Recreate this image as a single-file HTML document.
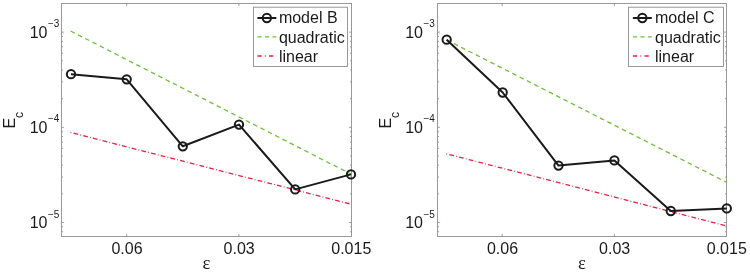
<!DOCTYPE html>
<html lang="en"><head><meta charset="utf-8"><title>Convergence plots</title>
<style>html,body{margin:0;padding:0;background:#fff;}body{width:750px;height:272px;overflow:hidden;}svg{display:block;}</style>
</head><body>
<svg width="750" height="272" viewBox="0 0 750 272" font-family="Liberation Sans, Arial, Helvetica, sans-serif" font-size="16" fill="#1a1a1a">
<rect width="750" height="272" fill="#fff"/>
<g>
<path d="M61.50 231.73h1.5M351.50 231.73h-1.5M61.50 226.86h1.5M351.50 226.86h-1.5M61.50 222.50h2.6M351.50 222.50h-2.6M61.50 193.84h1.5M351.50 193.84h-1.5M61.50 177.08h1.5M351.50 177.08h-1.5M61.50 165.18h1.5M351.50 165.18h-1.5M61.50 155.96h1.5M351.50 155.96h-1.5M61.50 148.42h1.5M351.50 148.42h-1.5M61.50 142.05h1.5M351.50 142.05h-1.5M61.50 136.53h1.5M351.50 136.53h-1.5M61.50 131.66h1.5M351.50 131.66h-1.5M61.50 127.30h2.6M351.50 127.30h-2.6M61.50 98.64h1.5M351.50 98.64h-1.5M61.50 81.88h1.5M351.50 81.88h-1.5M61.50 69.98h1.5M351.50 69.98h-1.5M61.50 60.76h1.5M351.50 60.76h-1.5M61.50 53.22h1.5M351.50 53.22h-1.5M61.50 46.85h1.5M351.50 46.85h-1.5M61.50 41.33h1.5M351.50 41.33h-1.5M61.50 36.46h1.5M351.50 36.46h-1.5M61.50 32.10h2.6M351.50 32.10h-2.6M126.70 3.5v2.6M126.70 236.5v-2.6M238.85 3.5v2.6M238.85 236.5v-2.6" stroke="#8c8c8c" stroke-width="0.8" fill="none"/>
<rect x="61.5" y="3.5" width="290.0" height="233.0" fill="none" stroke="#8e8e8e" stroke-width="0.9"/>
<line x1="70.6" y1="31.0" x2="351.2" y2="174.2" stroke="#6fbe3c" stroke-width="1.3" stroke-dasharray="4.6 3.6"/>
<line x1="70.6" y1="132.5" x2="351.2" y2="204.2" stroke="#ea2040" stroke-width="1.3" stroke-dasharray="4.8 2.2 0.8 2.2" stroke-dashoffset="7"/>
<polyline points="71,74.2 126.7,79.3 182.8,146.3 239.0,124.6 295.2,189.4 351.0,174.4" fill="none" stroke="#1a1a1a" stroke-width="2" stroke-linejoin="round"/>
<circle cx="71" cy="74.2" r="4.15" fill="none" stroke="#1a1a1a" stroke-width="2"/>
<circle cx="126.7" cy="79.3" r="4.15" fill="none" stroke="#1a1a1a" stroke-width="2"/>
<circle cx="182.8" cy="146.3" r="4.15" fill="none" stroke="#1a1a1a" stroke-width="2"/>
<circle cx="239.0" cy="124.6" r="4.15" fill="none" stroke="#1a1a1a" stroke-width="2"/>
<circle cx="295.2" cy="189.4" r="4.15" fill="none" stroke="#1a1a1a" stroke-width="2"/>
<circle cx="351.0" cy="174.4" r="4.15" fill="none" stroke="#1a1a1a" stroke-width="2"/>
<rect x="253.5" y="7.2" width="94.0" height="59.3" fill="#fff" stroke="#8e8e8e" stroke-width="0.9"/>
<line x1="257.4" y1="18" x2="276.3" y2="18" stroke="#1a1a1a" stroke-width="2"/>
<circle cx="266.85" cy="18" r="4.15" fill="none" stroke="#1a1a1a" stroke-width="2"/>
<line x1="257.4" y1="36.8" x2="276.3" y2="36.8" stroke="#6fbe3c" stroke-width="1.3" stroke-dasharray="4.3 3.2"/>
<line x1="257.4" y1="56.0" x2="276.3" y2="56.0" stroke="#ea2040" stroke-width="1.3" stroke-dasharray="4.3 3.2 0.9 3.2"/>
<text x="278.9" y="23.4">model B</text>
<text x="278.9" y="43.0">quadratic</text>
<text x="278.9" y="61.9">linear</text>
<text x="29.7" y="37.60">10<tspan font-size="10" dy="-10.4" dx="0.5">−3</tspan></text>
<text x="29.7" y="132.80">10<tspan font-size="10" dy="-10.4" dx="0.5">−4</tspan></text>
<text x="29.7" y="228.00">10<tspan font-size="10" dy="-10.4" dx="0.5">−5</tspan></text>
<text x="127.00" y="254.4" text-anchor="middle">0.06</text>
<text x="239.15" y="254.4" text-anchor="middle">0.03</text>
<text x="351.30" y="254.4" text-anchor="middle">0.015</text>
<text x="206.3" y="268.7" text-anchor="middle" font-family="Liberation Serif, serif" font-size="18.5">ε</text>
<text transform="translate(15.4 128.4) rotate(-90)">E<tspan font-size="12" dy="7.8" dx="-0.2">c</tspan></text>
</g>
<g>
<path d="M437.50 231.73h1.5M726.50 231.73h-1.5M437.50 226.86h1.5M726.50 226.86h-1.5M437.50 222.50h2.6M726.50 222.50h-2.6M437.50 193.84h1.5M726.50 193.84h-1.5M437.50 177.08h1.5M726.50 177.08h-1.5M437.50 165.18h1.5M726.50 165.18h-1.5M437.50 155.96h1.5M726.50 155.96h-1.5M437.50 148.42h1.5M726.50 148.42h-1.5M437.50 142.05h1.5M726.50 142.05h-1.5M437.50 136.53h1.5M726.50 136.53h-1.5M437.50 131.66h1.5M726.50 131.66h-1.5M437.50 127.30h2.6M726.50 127.30h-2.6M437.50 98.64h1.5M726.50 98.64h-1.5M437.50 81.88h1.5M726.50 81.88h-1.5M437.50 69.98h1.5M726.50 69.98h-1.5M437.50 60.76h1.5M726.50 60.76h-1.5M437.50 53.22h1.5M726.50 53.22h-1.5M437.50 46.85h1.5M726.50 46.85h-1.5M437.50 41.33h1.5M726.50 41.33h-1.5M437.50 36.46h1.5M726.50 36.46h-1.5M437.50 32.10h2.6M726.50 32.10h-2.6M502.20 3.5v2.6M502.20 236.5v-2.6M614.35 3.5v2.6M614.35 236.5v-2.6" stroke="#8c8c8c" stroke-width="0.8" fill="none"/>
<rect x="437.5" y="3.5" width="289.0" height="233.0" fill="none" stroke="#8e8e8e" stroke-width="0.9"/>
<line x1="446.5" y1="39.8" x2="727.0" y2="182.5" stroke="#6fbe3c" stroke-width="1.3" stroke-dasharray="4.6 3.6"/>
<line x1="446.4" y1="153.8" x2="727.0" y2="226.0" stroke="#ea2040" stroke-width="1.3" stroke-dasharray="4.8 2.2 0.8 2.2" stroke-dashoffset="7"/>
<polyline points="446.7,39.7 502.7,92.5 558.5,165.6 614.4,160.4 670.8,211.0 726.8,208.4" fill="none" stroke="#1a1a1a" stroke-width="2" stroke-linejoin="round"/>
<circle cx="446.7" cy="39.7" r="4.15" fill="none" stroke="#1a1a1a" stroke-width="2"/>
<circle cx="502.7" cy="92.5" r="4.15" fill="none" stroke="#1a1a1a" stroke-width="2"/>
<circle cx="558.5" cy="165.6" r="4.15" fill="none" stroke="#1a1a1a" stroke-width="2"/>
<circle cx="614.4" cy="160.4" r="4.15" fill="none" stroke="#1a1a1a" stroke-width="2"/>
<circle cx="670.8" cy="211.0" r="4.15" fill="none" stroke="#1a1a1a" stroke-width="2"/>
<circle cx="726.8" cy="208.4" r="4.15" fill="none" stroke="#1a1a1a" stroke-width="2"/>
<rect x="628.5" y="7.2" width="95.0" height="59.3" fill="#fff" stroke="#8e8e8e" stroke-width="0.9"/>
<line x1="632.9" y1="18" x2="651.8" y2="18" stroke="#1a1a1a" stroke-width="2"/>
<circle cx="642.3499999999999" cy="18" r="4.15" fill="none" stroke="#1a1a1a" stroke-width="2"/>
<line x1="632.9" y1="36.8" x2="651.8" y2="36.8" stroke="#6fbe3c" stroke-width="1.3" stroke-dasharray="4.3 3.2"/>
<line x1="632.9" y1="56.0" x2="651.8" y2="56.0" stroke="#ea2040" stroke-width="1.3" stroke-dasharray="4.3 3.2 0.9 3.2"/>
<text x="655.0" y="23.4">model C</text>
<text x="655.0" y="43.0">quadratic</text>
<text x="655.0" y="61.9">linear</text>
<text x="405.2" y="37.60">10<tspan font-size="10" dy="-10.4" dx="0.5">−3</tspan></text>
<text x="405.2" y="132.80">10<tspan font-size="10" dy="-10.4" dx="0.5">−4</tspan></text>
<text x="405.2" y="228.00">10<tspan font-size="10" dy="-10.4" dx="0.5">−5</tspan></text>
<text x="502.50" y="254.4" text-anchor="middle">0.06</text>
<text x="614.65" y="254.4" text-anchor="middle">0.03</text>
<text x="726.80" y="254.4" text-anchor="middle">0.015</text>
<text x="581.8" y="268.7" text-anchor="middle" font-family="Liberation Serif, serif" font-size="18.5">ε</text>
<text transform="translate(390.9 128.4) rotate(-90)">E<tspan font-size="12" dy="7.8" dx="-0.2">c</tspan></text>
</g>
</svg>
</body></html>
